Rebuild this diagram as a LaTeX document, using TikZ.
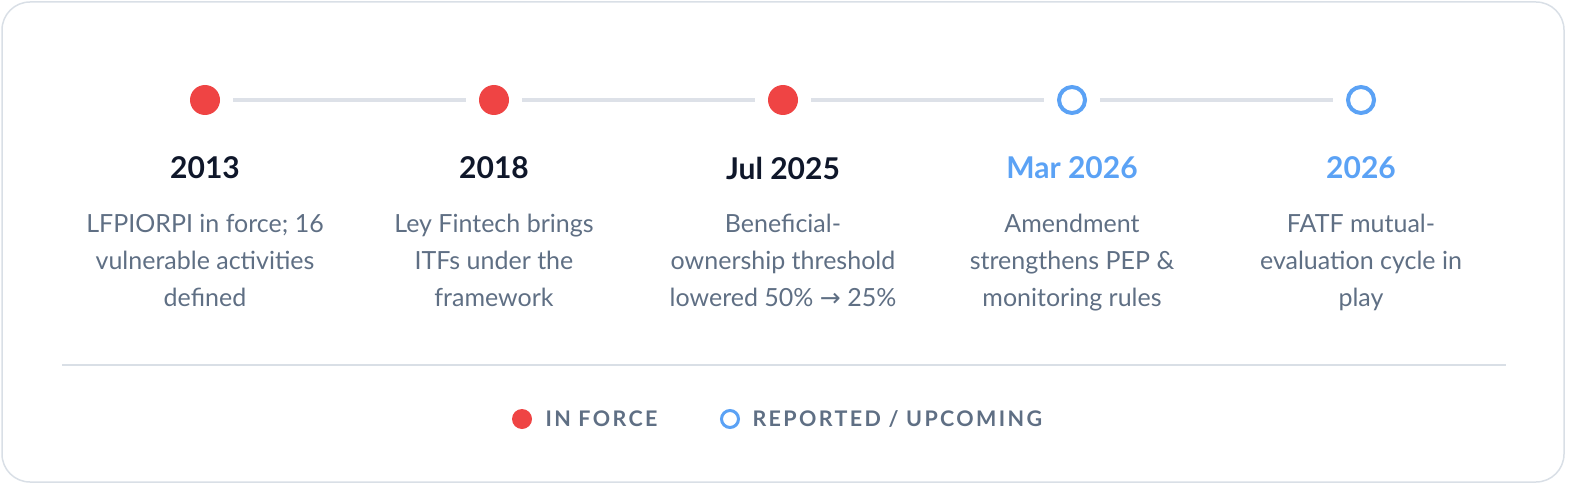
\documentclass[tikz,border=0pt]{standalone}
\usepackage{fontspec}
\setmainfont{Lato}
\newfontfamily\dv{DejaVu Sans}
\definecolor{redd}{HTML}{EF4444}
\definecolor{bluu}{HTML}{5BA2F5}
\definecolor{dark}{HTML}{0F172A}
\definecolor{grayt}{HTML}{5F6F84}
\definecolor{linec}{HTML}{DDE1E8}
\definecolor{framec}{HTML}{D9DFE6}
\begin{document}
\begin{tikzpicture}[x=1pt,y=-1pt,
 done/.style={circle,fill=redd,minimum size=30pt,inner sep=0},
 todo/.style={circle,draw=bluu,line width=4pt,fill=white,minimum size=26pt,inner sep=0},
 yr/.style={font=\fontsize{30}{33}\selectfont\bfseries,text=dark},
 yrb/.style={yr,text=bluu},
 desc/.style={font=\fontsize{25}{37}\selectfont,text=grayt,align=center,anchor=north},
 leg/.style={font=\fontsize{21.5}{24}\selectfont\bfseries\addfontfeatures{LetterSpace=11},text=grayt,anchor=west}]
\useasboundingbox (0,0) rectangle (1592,492);
\draw[framec,line width=1.5pt,rounded corners=28pt] (2,2) rectangle (1564,482);
\foreach \i/\x/\s in {1/205/done,2/494/done,3/783/done,4/1072/todo,5/1361/todo}{
  \node[\s] (d\i) at (\x,100) {};}
\foreach \a/\b in {1/2,2/3,3/4,4/5}{
  \draw[linec,line width=4pt,shorten <=13pt,shorten >=13pt] (d\a) -- (d\b);}
\node[yr] (y1) at (205,168) {2013};
\node[yr] (y2) at (494,168) {2018};
\node[yr] (y3) at (783,168) {Jul 2025};
\node[yrb] (y4) at (1072,168) {Mar 2026};
\node[yrb] (y5) at (1361,168) {2026};
\node[desc] (t1) at (205,211) {LFPIORPI in force; 16\\vulnerable activities\\defined};
\node[desc] (t2) at (494,211) {Ley Fintech brings\\ITFs under the\\framework};
\node[desc] (t3) at (783,211) {Beneficial-\\ownership threshold\\lowered 50\% {\dv→} 25\%};
\node[desc] (t4) at (1072,211) {Amendment\\strengthens PEP \&\\monitoring rules};
\node[desc] (t5) at (1361,211) {FATF mutual-\\evaluation cycle in\\play};
\draw[framec,line width=1.2pt] (62,365) -- (1506,365);
\node[circle,fill=redd,minimum size=20pt,inner sep=0] (l1) at (522,419) {};
\node[leg] (lt1) at (542,419) {IN FORCE};
\node[circle,draw=bluu,line width=3pt,minimum size=17pt,inner sep=0] (l2) at (730,419) {};
\node[leg] (lt2) at (749,419) {REPORTED / UPCOMING};
\end{tikzpicture}
\end{document}
